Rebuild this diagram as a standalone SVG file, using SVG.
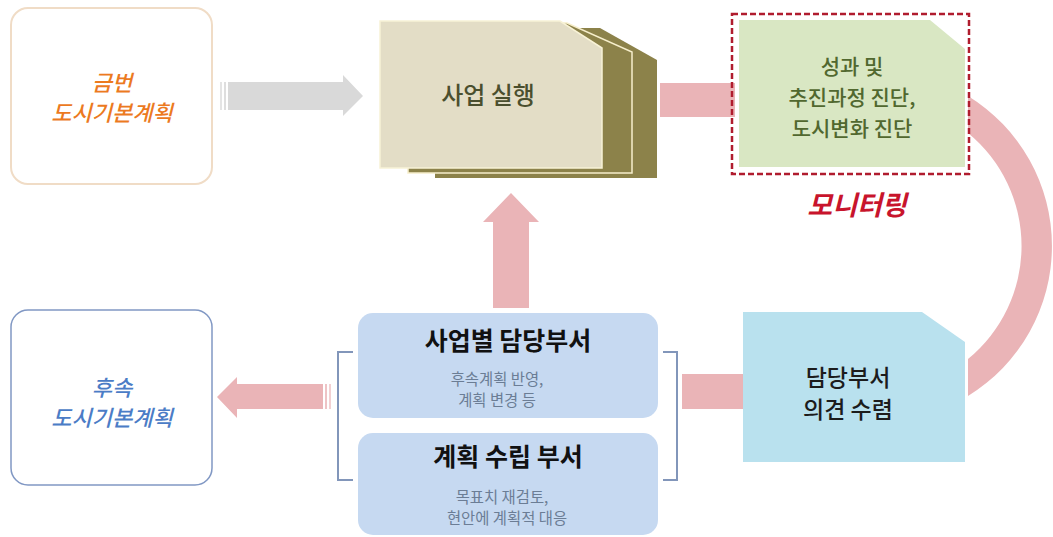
<svg xmlns="http://www.w3.org/2000/svg" width="1053" height="537" viewBox="0 0 1053 537">
<style>
.k{font-family:"Noto Sans CJK KR","Noto Sans CJK SC",sans-serif;text-anchor:middle}
.pink{fill:#eab4b7}
.br{fill:none;stroke:#8296ba;stroke-width:2}
.sub{font-size:15.4px;fill:#6b7d95}
</style>
<rect width="1053" height="537" fill="#ffffff"/>
<g id="connectors">
  <g id="arrow-gray">
    <path d="M228,82 H343 V75 L363,96 L343,116 V110 H228 Z" fill="#d9d9d9"/>
    <rect x="220" y="82" width="2" height="28" fill="#e4e4e4"/>
    <rect x="224" y="82" width="2" height="28" fill="#dedede"/>
  </g>
  <rect id="arrow-exec-monitor" class="pink" x="660" y="83" width="75" height="34"/>
  <path id="arc-monitor-opinion" class="pink" d="M968,96 A176,176 0 0 1 968,396 L968,359 A146,146 0 0 0 968,133 Z"/>
  <rect id="arrow-opinion-dept" class="pink" x="682" y="374" width="62" height="35"/>
  <path id="arrow-up" class="pink" d="M493,308 V222 H483 L511,193 L539,222 H529 V308 Z"/>
  <g id="arrow-left">
    <path class="pink" d="M323,384 H237 V377 L217,397 L237,418 V409 H323 Z"/>
    <rect x="325" y="384" width="2" height="25" fill="#eec3c5"/>
    <rect x="329" y="384" width="2" height="25" fill="#f2d0d2"/>
  </g>
</g>
<g id="node-current-plan">
  <rect x="11" y="8" width="201" height="176" rx="17" fill="#ffffff" stroke="#f0dcc6" stroke-width="2"/>
  <text class="k" font-size="22" font-style="italic" font-weight="500" fill="#ec7a1f"><tspan x="112" y="91">금번</tspan><tspan x="112" y="121">도시기본계획</tspan></text>
</g>
<g id="node-execution">
  <path d="M435,28 H600 L657,60 V178 H435 Z" fill="#8c824a"/>
  <path d="M408,23 H567 L632,52 V173 H408 Z" fill="#8c824a" stroke="#f6eecb" stroke-width="1.5"/>
  <path d="M380,21 H560 L602,48 V168 H380 Z" fill="#e3ddc6" stroke="#f8f2d6" stroke-width="1.5"/>
  <text class="k" x="488" y="104" font-size="24" font-weight="500" fill="#4b4f2e">사업 실행</text>
</g>
<g id="node-monitoring">
  <path d="M739,20 H930 L965,49 V167 H739 Z" fill="#d9e7c3"/>
  <rect x="732" y="14" width="237" height="160" fill="none" stroke="#b01c2e" stroke-width="2.5" stroke-dasharray="6,3"/>
  <text class="k" font-size="21" font-weight="500" fill="#51682f"><tspan x="852" y="74">성과 및</tspan><tspan x="852" y="105">추진과정 진단,</tspan><tspan x="852" y="136">도시변화 진단</tspan></text>
  <text class="k" x="857" y="215" font-size="27" font-style="italic" font-weight="bold" fill="#c8142c">모니터링</text>
</g>
<g id="node-opinion">
  <path d="M743,312 H922 L965,342 V462 H743 Z" fill="#b9e1ee"/>
  <text class="k" font-size="23" font-weight="500" fill="#1c1c1c"><tspan x="848" y="386">담당부서</tspan><tspan x="848" y="418">의견 수렴</tspan></text>
</g>
<g id="node-departments">
  <path class="br" d="M353,352 H338 V480 H353"/>
  <path class="br" d="M663,352 H677 V480 H663"/>
</g>
<g id="node-project-dept">
  <rect x="358" y="313" width="300" height="105" rx="15" fill="#c6d9f1"/>
  <text class="k" x="508" y="350" font-size="25" font-weight="bold" fill="#111111">사업별 담당부서</text>
  <text class="k sub"><tspan x="497" y="385">후속계획 반영,</tspan><tspan x="497" y="406">계획 변경 등</tspan></text>
</g>
<g id="node-plan-dept">
  <rect x="358" y="433" width="300" height="102" rx="15" fill="#c6d9f1"/>
  <text class="k" x="508" y="466" font-size="25" font-weight="bold" fill="#111111">계획 수립 부서</text>
  <text class="k sub"><tspan x="502" y="503">목표치 재검토,</tspan><tspan x="507" y="524">현안에 계획적 대응</tspan></text>
</g>
<g id="node-next-plan">
  <rect x="11" y="310" width="201" height="175" rx="17" fill="#ffffff" stroke="#8198c4" stroke-width="1.5"/>
  <text class="k" font-size="22" font-style="italic" font-weight="500" fill="#4b7cc6"><tspan x="112" y="396">후속</tspan><tspan x="112" y="426">도시기본계획</tspan></text>
</g>
</svg>
